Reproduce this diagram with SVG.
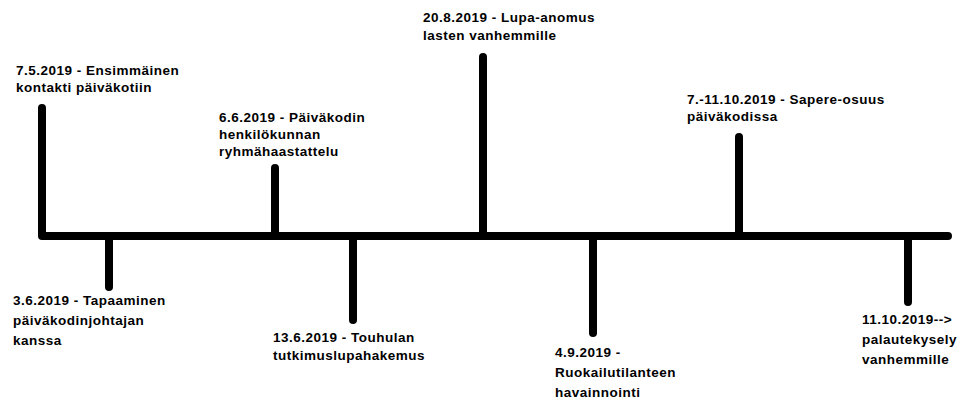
<svg xmlns="http://www.w3.org/2000/svg" width="957" height="398" viewBox="0 0 957 398">
<style>
.ln{fill:none;stroke:#000;stroke-width:8;stroke-linecap:round;stroke-linejoin:round}
text{font-family:"Liberation Sans",Arial,sans-serif;font-weight:bold;font-size:13.5px;letter-spacing:0.5px;fill:#000}
</style>
<rect width="957" height="398" fill="#fff"/>
<g id="connectors">
<path class="ln" d="M42,108 V236 H948"/>
<path class="ln" d="M275,168 V236"/>
<path class="ln" d="M483,57 V236"/>
<path class="ln" d="M739,137 V236"/>
<path class="ln" d="M109,236 V287"/>
<path class="ln" d="M353,236 V320"/>
<path class="ln" d="M593,236 V333"/>
<path class="ln" d="M908,236 V302"/>
</g>
<g id="n1"><text x="16" y="75">7.5.2019 - Ensimmäinen</text><text x="16" y="92">kontakti päiväkotiin</text></g>
<g id="n2"><text x="219" y="122">6.6.2019 - Päiväkodin</text><text x="219" y="139">henkilökunnan</text><text x="219" y="156">ryhmähaastattelu</text></g>
<g id="n3"><text x="423" y="22">20.8.2019 - Lupa-anomus</text><text x="423" y="40">lasten vanhemmille</text></g>
<g id="n4"><text x="687" y="104">7.-11.10.2019 - Sapere-osuus</text><text x="687" y="121">päiväkodissa</text></g>
<g id="n5"><text x="13" y="305">3.6.2019 - Tapaaminen</text><text x="13" y="325">päiväkodinjohtajan</text><text x="13" y="345">kanssa</text></g>
<g id="n6"><text x="273" y="342">13.6.2019 - Touhulan</text><text x="273" y="360">tutkimuslupahakemus</text></g>
<g id="n7"><text x="555" y="357">4.9.2019 -</text><text x="555" y="377">Ruokailutilanteen</text><text x="555" y="397">havainnointi</text></g>
<g id="n8"><text x="862" y="324">11.10.2019--&gt;</text><text x="862" y="344">palautekysely</text><text x="862" y="364">vanhemmille</text></g>
</svg>
